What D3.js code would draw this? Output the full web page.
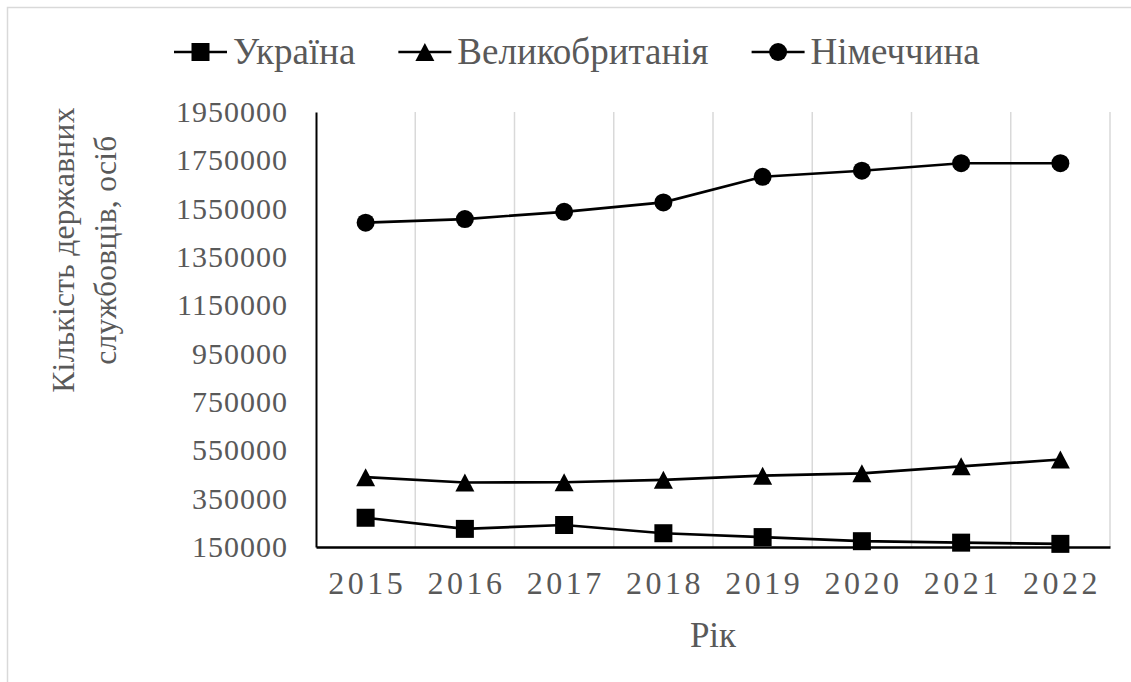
<!DOCTYPE html>
<html>
<head>
<meta charset="utf-8">
<script src="https://cdn.jsdelivr.net/npm/d3@7"></script>
<style>
  html, body { margin: 0; padding: 0; background: #fff; }
  svg { display: block; }
  svg text { font-family: "Liberation Serif", "Times New Roman", serif !important; fill: #595959; }
</style>
</head>
<body>
<svg id="chart" width="1131" height="682" font-family="Liberation Serif"></svg>
<script>
const years = ["2015", "2016", "2017", "2018", "2019", "2020", "2021", "2022"];
const ukraine = [271000, 225000, 241000, 207000, 191000, 174000, 168000, 163000];
const uk = [439000, 417000, 418000, 428000, 445000, 455000, 484000, 512000];
const germany = [1492000, 1507000, 1537000, 1576000, 1682000, 1707000, 1738000, 1738000];
const yTicks = [150000, 350000, 550000, 750000, 950000, 1150000, 1350000, 1550000, 1750000, 1950000];
const seriesNames = ["Україна", "Великобританія", "Німеччина"];
const markerTypes = ["square", "triangle", "circle"];
const xTitle = "Рік";
const yTitleLines = ["Кількість державних", "службовців, осіб"];

const svg = d3.select("#chart");
const W = 1131, H = 682;
const plot = { left: 316, right: 1110, top: 112, bottom: 547 };

// outer frame
svg.append("rect").attr("x", 7.5).attr("y", 7.5).attr("width", W + 20).attr("height", H + 20)
  .attr("fill", "none").attr("stroke", "#d9d9d9").attr("stroke-width", 1.5);

const x = d3.scaleBand().domain(years).range([plot.left, plot.right]).padding(0);
const y = d3.scaleLinear().domain([150000, 1950000]).range([plot.bottom, plot.top]);
const cx = d => x(d) + x.bandwidth() / 2;

// vertical gridlines at category boundaries
svg.append("g").selectAll("line").data(years).join("line")
  .attr("x1", d => x(d) + x.bandwidth()).attr("x2", d => x(d) + x.bandwidth())
  .attr("y1", plot.top).attr("y2", plot.bottom)
  .attr("stroke", "#d9d9d9").attr("stroke-width", 1.5);

// Y axis
const yAxis = svg.append("g").attr("transform", `translate(${plot.left},0)`)
  .call(d3.axisLeft(y).tickValues(yTicks).tickSize(0).tickPadding(28).tickFormat(d3.format("d")));
yAxis.attr("font-family", null);
yAxis.select(".domain").attr("stroke", "#000").attr("stroke-width", 2);
yAxis.selectAll("text").style("font-size", "30px").style("letter-spacing", "1px").attr("fill", "#595959");

// X axis
const xAxis = svg.append("g").attr("transform", `translate(0,${plot.bottom})`)
  .call(d3.axisBottom(x).tickSize(0).tickPadding(24));
xAxis.attr("font-family", null);
xAxis.select(".domain").attr("stroke", "#000").attr("stroke-width", 2.5);
xAxis.selectAll("text").style("font-size", "32px")
  .style("letter-spacing", "3.5px").attr("dx", "1.7px").attr("fill", "#595959");

// Axis titles
svg.append("text").attr("x", (plot.left + plot.right) / 2).attr("y", 647)
  .attr("text-anchor", "middle").style("font-size", "35px").text(xTitle);

const yt = svg.append("text").attr("transform", "translate(63,250) rotate(-90)")
  .attr("text-anchor", "middle").style("font-size", "31.5px").style("letter-spacing", "0.3px");
yTitleLines.forEach((t, i) => {
  yt.append("tspan").attr("x", 0).attr("y", i * 42 + 11).text(t);
});

// markers
function drawMarker(g, type, px, py) {
  if (type === "square") {
    g.append("rect").attr("x", px - 9).attr("y", py - 9).attr("width", 18).attr("height", 18).attr("fill", "#000");
  } else if (type === "triangle") {
    g.append("path").attr("d", `M${px},${py - 9}L${px + 9.5},${py + 9}L${px - 9.5},${py + 9}Z`).attr("fill", "#000");
  } else {
    g.append("circle").attr("cx", px).attr("cy", py).attr("r", 9).attr("fill", "#000");
  }
}

const allSeries = [ukraine, uk, germany];
const line = d3.line().x((d, i) => cx(years[i])).y(d => y(d));
allSeries.forEach((vals, si) => {
  const g = svg.append("g");
  g.append("path").datum(vals).attr("d", line).attr("fill", "none")
    .attr("stroke", "#000").attr("stroke-width", 2.7);
  vals.forEach((v, i) => drawMarker(g, markerTypes[si], cx(years[i]), y(v)));
});

// legend
const legend = svg.append("g");
let lx = 174;
const ly = 52;
seriesNames.forEach((name, i) => {
  const g = legend.append("g");
  g.append("line").attr("x1", lx).attr("x2", lx + 53).attr("y1", ly).attr("y2", ly)
    .attr("stroke", "#000").attr("stroke-width", 2.7);
  drawMarker(g, markerTypes[i], lx + 26.5, ly);
  const t = g.append("text").attr("x", lx + 59).attr("y", ly + 12).style("font-size", "37px").text(name);
  const w = t.node().getComputedTextLength();
  lx = lx + 59 + w + 43;
});
</script>
</body>
</html>
